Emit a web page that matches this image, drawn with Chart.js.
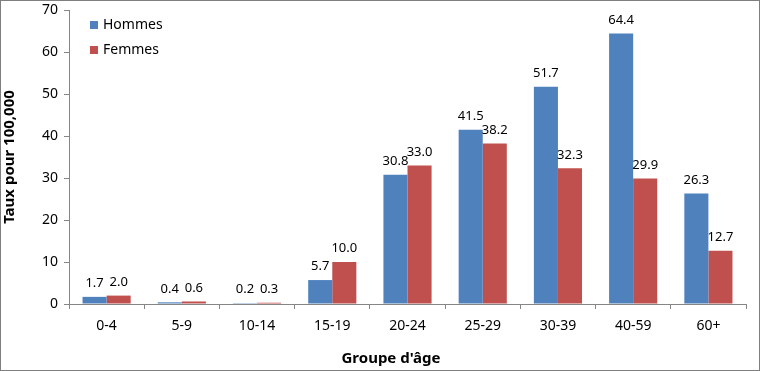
<!DOCTYPE html>
<html>
<head>
<meta charset="utf-8">
<script src="https://cdn.jsdelivr.net/npm/chart.js@4/dist/chart.umd.min.js"></script>
<style>
  html, body { margin: 0; padding: 0; background: #fff; }
  #wrap { width: 760px; height: 371px; position: relative; }
</style>
</head>
<body>
<div id="wrap"><canvas id="ageChart"></canvas></div>
<script>
const ageGroups = ["0-4", "5-9", "10-14", "15-19", "20-24", "25-29", "30-39", "40-59", "60+"];
const hommes = [1.7, 0.4, 0.2, 5.7, 30.8, 41.5, 51.7, 64.4, 26.3];
const femmes = [2.0, 0.6, 0.3, 10.0, 33.0, 38.2, 32.3, 29.9, 12.7];
const yTicks = [0, 10, 20, 30, 40, 50, 60, 70];
const xTitle = "Groupe d'âge";
const yTitle = "Taux pour 100,000";

const fontFamily = "'Noto Sans', 'Open Sans', sans-serif";
const axisColor = "#868686";

// values written above each bar
const barLabels = {
  id: "barLabels",
  afterDatasetsDraw(chart) {
    const ctx = chart.ctx;
    ctx.save();
    ctx.font = "13px " + fontFamily;
    ctx.fillStyle = "#000";
    ctx.textAlign = "center";
    ctx.textBaseline = "bottom";
    chart.data.datasets.forEach((ds, i) => {
      chart.getDatasetMeta(i).data.forEach((bar, j) => {
        ctx.fillText(ds.data[j].toFixed(1), bar.x, bar.y - 7);
      });
    });
    ctx.restore();
  },
};

// legend stacked inside the plot, top left
const insideLegend = {
  id: "insideLegend",
  afterDraw(chart) {
    const ctx = chart.ctx;
    const area = chart.chartArea;
    ctx.save();
    ctx.font = "14px " + fontFamily;
    ctx.textBaseline = "middle";
    ctx.textAlign = "left";
    chart.data.datasets.forEach((ds, i) => {
      const cy = area.top + 15 + i * 25;
      const x = area.left + 21;
      ctx.fillStyle = ds.backgroundColor;
      ctx.fillRect(x, cy - 4, 8, 8);
      ctx.fillStyle = "#000";
      ctx.fillText(ds.label, x + 13, cy);
    });
    ctx.restore();
  },
};

// x title sits a bit left of the plot centre, like the original
const xAxisTitle = {
  id: "xAxisTitle",
  afterDraw(chart) {
    const ctx = chart.ctx;
    ctx.save();
    ctx.font = "bold 15px " + fontFamily;
    ctx.fillStyle = "#000";
    ctx.textAlign = "center";
    ctx.textBaseline = "middle";
    ctx.fillText(xTitle, 391, 359);
    ctx.restore();
  },
};

const frame = {
  id: "frame",
  afterDraw(chart) {
    const ctx = chart.ctx;
    ctx.save();
    ctx.strokeStyle = "#7f7f7f";
    ctx.lineWidth = 1;
    ctx.strokeRect(0.5, 0.5, chart.width - 1, chart.height - 1);
    ctx.restore();
  },
};

new Chart(document.getElementById("ageChart"), {
  type: "bar",
  data: {
    labels: ageGroups,
    datasets: [
      {
        label: "Hommes",
        data: hommes,
        backgroundColor: "#4f81bd",
        borderWidth: 0,
        barPercentage: 1,
        categoryPercentage: 0.64,
      },
      {
        label: "Femmes",
        data: femmes,
        backgroundColor: "#c0504d",
        borderWidth: 0,
        barPercentage: 1,
        categoryPercentage: 0.64,
      },
    ],
  },
  options: {
    responsive: true,
    maintainAspectRatio: false,
    animation: false,
    layout: { padding: { left: 0, top: 10, right: 14, bottom: 0 } },
    plugins: {
      legend: { display: false },
      tooltip: { enabled: false },
    },
    scales: {
      x: {
        grid: {
          display: true,
          drawOnChartArea: false,
          drawTicks: true,
          tickLength: 5,
          color: axisColor,
          offset: true,
        },
        border: { display: true, color: axisColor },
        ticks: {
          color: "#000",
          font: { family: fontFamily, size: 14 },
          padding: 9,
        },
        afterFit: (scale) => { scale.height = 67; },
      },
      y: {
        min: 0,
        max: 70,
        afterBuildTicks: (scale) => {
          scale.ticks = yTicks.map((v) => ({ value: v }));
        },
        grid: {
          display: true,
          drawOnChartArea: false,
          drawTicks: true,
          tickLength: 5,
          color: axisColor,
        },
        border: { display: true, color: axisColor },
        ticks: {
          color: "#000",
          font: { family: fontFamily, size: 14 },
          padding: 6,
        },
        title: {
          display: true,
          text: yTitle,
          color: "#000",
          font: { family: fontFamily, size: 15, weight: "bold" },
          padding: { top: 1, bottom: 0 },
        },
        afterFit: (scale) => {
          scale.width = 69;
          scale.paddingTop = 0;
        },
      },
    },
  },
  plugins: [barLabels, insideLegend, xAxisTitle, frame],
});
</script>
</body>
</html>
